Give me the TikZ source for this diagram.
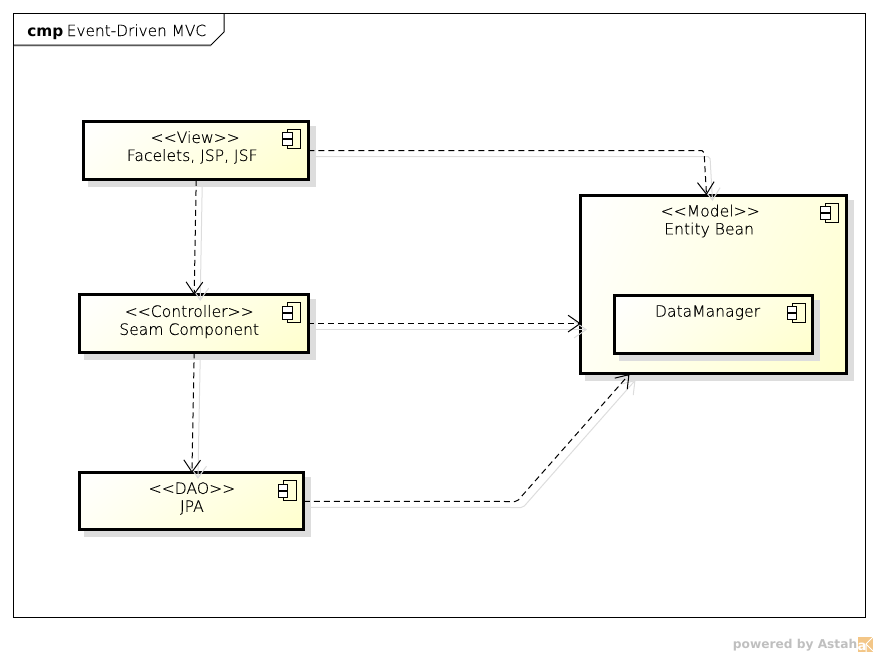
\documentclass[tikz,border=0pt]{standalone}
\usepackage{fontspec}
\setmainfont{DejaVu Sans ExtraLight}[BoldFont={DejaVu Sans Bold},UprightFeatures={FakeBold=0.25}]
\newfontfamily\footerfont{DejaVu Sans Bold}
\definecolor{BoxYellow}{HTML}{FFFFCC}
\definecolor{BoxPale}{HTML}{FFFFF4}
\definecolor{BoxMid}{HTML}{FFFFDC}
\definecolor{ShadowGrey}{HTML}{DDDDDD}
\definecolor{LogoOrange}{HTML}{F3C687}
\usetikzlibrary{arrows.meta}
\usetikzlibrary{calc}
\usetikzlibrary{positioning}
\usetikzlibrary{shadings}
\usetikzlibrary{shadows}

\tikzset{
  compbox/.style 2 args={
    shape=rectangle,
    draw,
    line width=2.25pt,
    outer sep=0pt,
    inner ysep=0pt,
    inner xsep=0pt,
    align=center,
    text height=#1,
    text depth=#2,
    shade,
    upper left=white,
    upper right=BoxMid,
    lower left=BoxPale,
    lower right=BoxYellow,
    general shadow={draw=ShadowGrey,fill=ShadowGrey,shadow xshift=4.5pt,shadow yshift=-4.5pt}},
  dep/.style={
    line width=0.75pt,
    dash pattern=on 4.5pt off 3pt,
    rounded corners=1.5pt,
    -{Straight Barb[length=9pt,width=12.5pt,line width=0.75pt]}},
  depshadow/.style={
    line width=0.75pt,
    draw=ShadowGrey,
    rounded corners=1.5pt,
    -{Straight Barb[length=9pt,width=12.5pt,line width=0.75pt]}},
  pics/compicon/.style={
    code={
      \draw[line width=0.75pt] (-20.5,8) rectangle (-7.5,27.5);
      \draw[line width=0.75pt,fill=white] (-25.5,11.5) rectangle (-16,17.5);
      \draw[line width=0.75pt,fill=white] (-25.5,18.5) rectangle (-16,24.5);
    }}
}

\begin{document}
\begin{tikzpicture}[x=0.75pt,y=-0.75pt,
    font=\fontsize{11.7}{13.5}\selectfont,
    node distance=5mm and 5mm]
    \path [use as bounding box] (0,0) rectangle (878,657);

    % frame and its tab
    \node[name=frame,
      shape=rectangle,
      draw,
      line width=0.75pt,
      minimum width=639pt,
      minimum height=453pt] at (439.5,315.5) {};
    \coordinate (tabbottom) at (13.5,45);
    \coordinate (tabcut) at (211,45);
    \coordinate (tabside) at (224,32);
    \coordinate (tabtop) at (224,13.5);
    \draw[line width=0.75pt,draw=ShadowGrey] ($(tabbottom)+(0,1)$) -- ($(tabcut)+(0,1)$);
    \draw[line width=0.75pt] (tabbottom) -- (tabcut) -- (tabside) -- (tabtop);
    \node[name=title,anchor=base west,inner sep=0pt,font=\fontsize{11.5}{13.5}\selectfont] at (27,36) {\textbf{cmp}\hspace{2.6pt}Event-Driven MVC};

    % components
    \node[name=view,
      compbox={29.6pt}{14.25pt},
      minimum width=168.4pt] at (196.2,150.7) {<{}<View>{}>\hspace*{1.5pt}\\Facelets, JSP, JSF\hspace*{6pt}};

    \node[name=ctrl,
      compbox={30pt}{13.1pt},
      minimum width=171.4pt,
      below=86.2pt of view,
      xshift=-1.5pt] {<{}<Controller>{}>\hspace*{7.5pt}\\Seam Component\hspace*{7.5pt}};

    \node[name=dao,
      compbox={29.25pt}{13.5pt},
      minimum width=168pt,
      below=90.4pt of ctrl,
      xshift=-1.7pt] {<{}<DAO>{}>\\JPA};

    \node[name=model,
      compbox={29.6pt}{103.9pt},
      minimum width=198.8pt] at (713.5,284) {<{}<Model>{}>\hspace*{5pt}\\Entity Bean\hspace*{6.5pt}};

    \node[name=datamgr,
      compbox={16.25pt}{27.65pt},
      minimum width=148.9pt,
      above=14.6pt of model.south] {DataManager\hspace*{9pt}};

    \pic at (view.north east) {compicon};
    \pic at (ctrl.north east) {compicon};
    \pic at (dao.north east) {compicon};
    \pic at (model.north east) {compicon};
    \pic at (datamgr.north east) {compicon};

    % free ends on the model box
    \coordinate (viewbend) at (704,150.7);
    \coordinate (modeltop) at (706.5,195);
    \coordinate (daobend) at (517,501.5);
    \coordinate (modelbottom) at (629.5,374);

    % grey copies of the dependencies
    \draw[depshadow] ($(view.south)+(6,6)$) -- ($(ctrl.north)+(6,6)$);
    \draw[depshadow] ($(ctrl.south)+(6,6)$) -- ($(dao.north)+(6,6)$);
    \draw[depshadow] ($(view.east)+(6,6)$) -- ($(viewbend)+(6,6)$) -- ($(modeltop)+(6,6)$);
    \draw[depshadow] ($(ctrl.east)+(6,6)$) -- ($(ctrl.east -| model.west)+(6,6)$);
    \draw[depshadow] ($(dao.east)+(6,6)$) -- ($(daobend)+(6,6)$) -- ($(modelbottom)+(6,6)$);

    % dependencies
    \draw[dep] (view.south) -- (ctrl.north);
    \draw[dep] (ctrl.south) -- (dao.north);
    \draw[dep] (view.east) -- (viewbend) -- (modeltop);
    \draw[dep] (ctrl.east) -- (ctrl.east -| model.west);
    \draw[dep] (dao.east) -- (daobend) -- (modelbottom);

    % footer
    \node[name=powered,
      anchor=base east,
      inner sep=0pt,
      text=black!25,
      font=\fontsize{9.15}{11}\footerfont] at (857.5,648) {powered by Astah};
    \fill[LogoOrange] (858,637) rectangle (873,652);
    \draw[white,line width=0.75pt] (866,652) -- (866,644) -- (873,637);
    \draw[white,line width=0.75pt] (866,644) -- (873,651);
    \node[name=logo,anchor=base,inner sep=0pt,text=white,font=\fontsize{10}{10}\footerfont] at (862,650.5) {a};
\end{tikzpicture}
\end{document}
